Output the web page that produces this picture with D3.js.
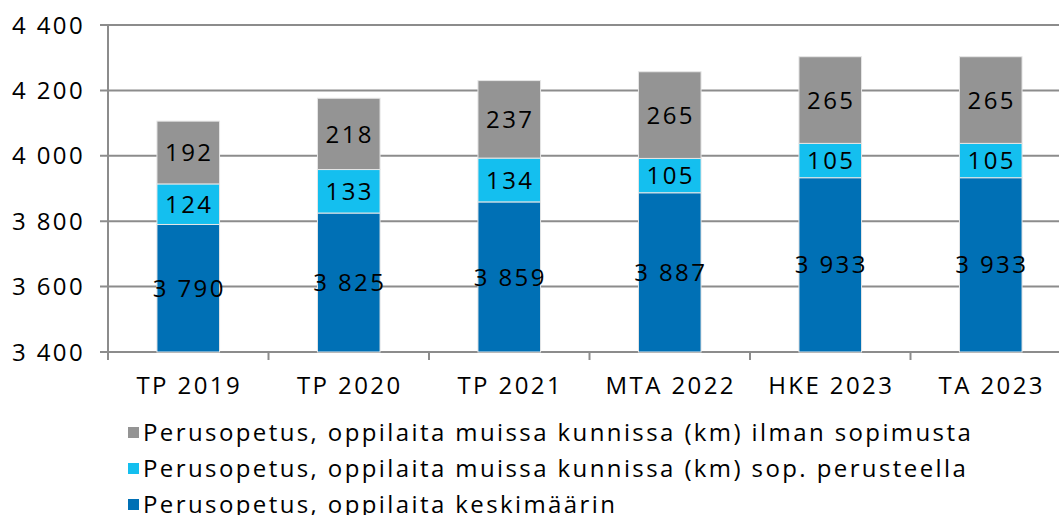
<!DOCTYPE html>
<html>
<head>
<meta charset="utf-8">
<script src="https://cdn.jsdelivr.net/npm/d3@7"></script>
<style>
  body { margin: 0; background: #fff; }
  text { font-family: "Open Sans", sans-serif; fill: #000; letter-spacing: 2.4px; }
</style>
</head>
<body>
<svg id="chart" width="1059" height="515"></svg>
<script>
// data
const categories = ["TP 2019", "TP 2020", "TP 2021", "MTA 2022", "HKE 2023", "TA 2023"];
const keskimaarin = [3790, 3825, 3859, 3887, 3933, 3933];
const sopPerusteella = [124, 133, 134, 105, 105, 105];
const ilmanSopimusta = [192, 218, 237, 265, 265, 265];
const yTicks = [3400, 3600, 3800, 4000, 4200, 4400];

const seriesNames = [
  "Perusopetus, oppilaita keskimäärin",
  "Perusopetus, oppilaita muissa kunnissa (km) sop. perusteella",
  "Perusopetus, oppilaita muissa kunnissa (km) ilman sopimusta"
];
const colors = ["#0070b5", "#14bfef", "#949494"];

const fmt = d3.formatLocale({decimal: ",", thousands: " ", grouping: [3], currency: ["", ""]}).format(",d");

const svg = d3.select("#chart");
const x0 = 108, x1 = 1071, yTop = 25, yBot = 352;

const x = d3.scaleBand().domain(categories).range([x0, x1]).paddingInner(0.61).paddingOuter(0.305);
const y = d3.scaleLinear().domain([3400, 4400]).range([yBot, yTop]);

// gridlines
svg.append("g").selectAll("line")
  .data(yTicks)
  .join("line")
  .attr("x1", x0 - 8).attr("x2", x1)
  .attr("y1", d => y(d)).attr("y2", d => y(d))
  .style("stroke", "#8c8c8c")
  .style("stroke-width", "2px");

// y labels
svg.append("g").selectAll("text")
  .data(yTicks)
  .join("text")
  .attr("x", 85).attr("y", d => y(d))
  .attr("dy", "0.36em")
  .attr("text-anchor", "end")
  .style("font-size", "24px")
  .text(d => fmt(d));

// stacked data
const rows = categories.map((c, i) => ({cat: c, v: [keskimaarin[i], sopPerusteella[i], ilmanSopimusta[i]]}));
const segs = [];
rows.forEach(r => {
  let base = 0;
  r.v.forEach((v, k) => {
    segs.push({cat: r.cat, k: k, v: v, lo: base, hi: base + v});
    base += v;
  });
});

svg.append("g").selectAll("rect")
  .data(segs)
  .join("rect")
  .attr("x", d => x(d.cat))
  .attr("width", x.bandwidth())
  .attr("y", d => y(d.hi))
  .attr("height", d => y(Math.max(d.lo, 3400)) - y(d.hi))
  .style("fill", d => colors[d.k])
  .style("stroke", "#e6e6e6")
  .style("stroke-width", "1px");

svg.append("g").selectAll("text")
  .data(segs)
  .join("text")
  .attr("x", d => x(d.cat) + x.bandwidth() / 2 + 1)
  .attr("y", d => y((Math.max(d.lo, 3400) + d.hi) / 2))
  .attr("dy", "0.36em")
  .attr("text-anchor", "middle")
  .style("font-size", "24px")
  .text(d => fmt(d.v));

// axes lines
svg.append("line")
  .attr("x1", x0).attr("x2", x0).attr("y1", yTop).attr("y2", yBot)
  .style("stroke", "#8c8c8c").style("stroke-width", "2px");

const catTicks = d3.range(categories.length + 1).map(i => x0 + i * x.step());
svg.append("g").selectAll("line")
  .data(catTicks)
  .join("line")
  .attr("x1", d => d).attr("x2", d => d)
  .attr("y1", yBot).attr("y2", yBot + 8)
  .style("stroke", "#8c8c8c").style("stroke-width", "2px");

svg.append("g").selectAll("text")
  .data(categories)
  .join("text")
  .attr("x", d => x(d) + x.bandwidth() / 2 + 1)
  .attr("y", 385)
  .attr("dy", "0.36em")
  .attr("text-anchor", "middle")
  .style("font-size", "24px")
  .text(d => d);

// legend, last series on top
const legendItems = [2, 1, 0];
const leg = svg.append("g").selectAll("g")
  .data(legendItems)
  .join("g")
  .attr("transform", (d, i) => "translate(128," + (432 + i * 36) + ")");
leg.append("rect")
  .attr("x", 0).attr("y", -5).attr("width", 11).attr("height", 11)
  .style("fill", d => colors[d]);
leg.append("text")
  .attr("x", 15).attr("y", 0)
  .attr("dy", "0.36em")
  .style("font-size", "24px")
  .text(d => seriesNames[d]);
</script>
</body>
</html>
